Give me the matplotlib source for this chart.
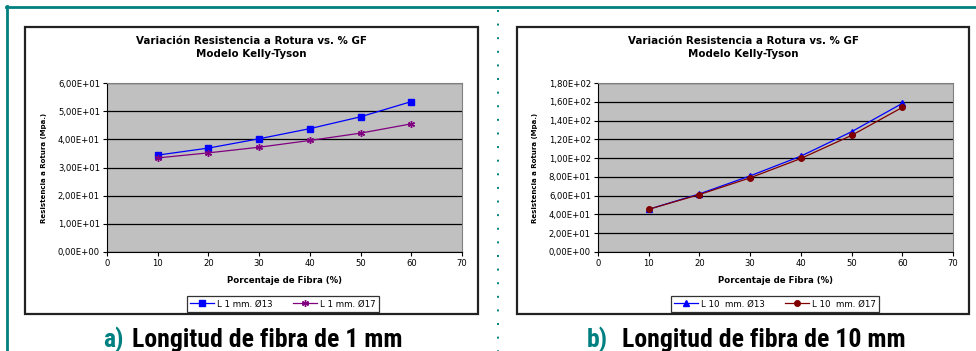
import matplotlib
matplotlib.use("Agg")
import matplotlib.pyplot as plt
from matplotlib import font_manager
from matplotlib.lines import Line2D
from matplotlib.patches import Rectangle
from matplotlib.ticker import FuncFormatter

# data
fibra = [10, 20, 30, 40, 50, 60]

l1_d13 = [34.4, 36.9, 40.2, 43.8, 48.0, 53.4]
l1_d17 = [33.4, 35.2, 37.2, 39.6, 42.2, 45.5]

l10_d13 = [45.5, 61.9, 81.1, 102.1, 128.1, 158.3]
l10_d17 = [45.5, 61.2, 79.0, 99.6, 124.2, 154.0]

labels_a = ["L 1 mm. Ø13", "L 1 mm. Ø17"]
labels_b = ["L 10  mm. Ø13", "L 10  mm. Ø17"]

W, H = 976, 351
TEAL = "#008080"
fig = plt.figure(figsize=(W / 100, H / 100), dpi=100)
plt.rcParams['font.family'] = ['DejaVu Sans']

# a condensed family for the captions, if one is there
names = {f.name for f in font_manager.fontManager.ttflist}
cap_font, cap_size = 'Liberation Sans', 15.5
for cand in ['Liberation Sans Narrow', 'Roboto Condensed', 'DejaVu Sans Condensed']:
    if cand in names:
        cap_font, cap_size = cand, 18.5
        break


def fx(px):
    return px / W


def fy(py):
    return 1 - py / H


def box(x0, y0, x1, y1):
    return [fx(x0), fy(y1), (x1 - x0) / W, (y1 - y0) / H]


def sci_comma(v, pos):
    return f"{v:.2E}".replace(".", ",")


# teal frame lines
fig.add_artist(Line2D([fx(6), fx(W)], [fy(7), fy(7)], color=TEAL, lw=2))
fig.add_artist(Line2D([fx(7), fx(7)], [fy(6), fy(H)], color=TEAL, lw=2))
fig.add_artist(Line2D([fx(498), fx(498)], [fy(10), fy(H)], color=TEAL, lw=1.4,
                      ls=(0, (1, 6))))


def draw_chart(chart_px, plot_px, y1, y2, lab, ymax, ystep, styles, leg_center):
    # white chart area with dark border
    cx0, cy0, cx1, cy1 = chart_px
    fig.add_artist(Rectangle((fx(cx0), fy(cy1)), (cx1 - cx0) / W, (cy1 - cy0) / H,
                             transform=fig.transFigure, facecolor='white',
                             edgecolor='#222222', lw=1.6, zorder=0))
    ax = fig.add_axes(box(*plot_px))
    ax.set_facecolor('#C0C0C0')
    for y, lb, st in zip([y1, y2], lab, styles):
        ax.plot(fibra, y, label=lb, clip_on=False, **st)
    ax.set_xlim(0, 70)
    ax.set_ylim(0, ymax)
    ax.set_xticks(range(0, 71, 10))
    ticks = [ystep * i for i in range(int(round(ymax / ystep)) + 1)]
    ax.set_yticks(ticks)
    ax.yaxis.set_major_formatter(FuncFormatter(sci_comma))
    ax.grid(axis='y', color='black', lw=0.9)
    ax.set_axisbelow(True)
    ax.tick_params(direction='out', length=3, width=0.8, labelsize=6.1, pad=2)
    for s in ['top', 'right']:
        ax.spines[s].set_color('#808080')
    for s in ['left', 'bottom']:
        ax.spines[s].set_color('black')
    ax.set_xlabel('Porcentaje de Fibra (%)', fontsize=6.2, fontweight='bold', labelpad=6)
    ax.set_ylabel('Resistencia a Rotura (Mpa.)', fontsize=5.0, fontweight='bold', labelpad=8)
    mid = (cx0 + cx1) / 2
    fig.text(fx(mid), fy(41), 'Variación Resistencia a Rotura vs. % GF', ha='center',
             va='center', fontsize=7.4, fontweight='bold')
    fig.text(fx(mid), fy(54), 'Modelo Kelly-Tyson', ha='center', va='center',
             fontsize=7.4, fontweight='bold')
    leg = fig.legend(*ax.get_legend_handles_labels(), loc='center', ncol=2,
                     bbox_to_anchor=(fx(leg_center[0]), fy(leg_center[1])),
                     fontsize=6.2, frameon=True, fancybox=False, edgecolor='black',
                     borderpad=0.35, handlelength=2.8, columnspacing=2.4,
                     handletextpad=0.3)
    leg.get_frame().set_linewidth(0.9)
    return ax


st_a = [dict(color='#0000FF', lw=0.9, marker='s', ms=4),
        dict(color='#800080', lw=0.9, marker=(6, 2, 0), ms=5, mew=1)]
st_b = [dict(color='#0000FF', lw=0.9, marker='^', ms=4.5),
        dict(color='#800000', lw=0.9, marker='o', ms=4)]

draw_chart((25, 27, 478, 314), (107, 83, 462, 252), l1_d13, l1_d17, labels_a,
           60, 10, st_a, (283, 304))
draw_chart((517, 27, 969, 314), (598, 83, 953, 252), l10_d13, l10_d17, labels_b,
           180, 20, st_b, (775, 304))

# captions under each chart
cap = dict(fontsize=cap_size, fontweight='bold', va='baseline', family=cap_font)
fig.text(fx(124), fy(347), 'a)', ha='right', color=TEAL, **cap)
fig.text(fx(132), fy(347), 'Longitud de fibra de 1 mm', ha='left', color='black', **cap)
fig.text(fx(608), fy(347), 'b)', ha='right', color=TEAL, **cap)
fig.text(fx(622), fy(347), 'Longitud de fibra de 10 mm', ha='left', color='black', **cap)

fig.savefig('out.png', dpi=100)
